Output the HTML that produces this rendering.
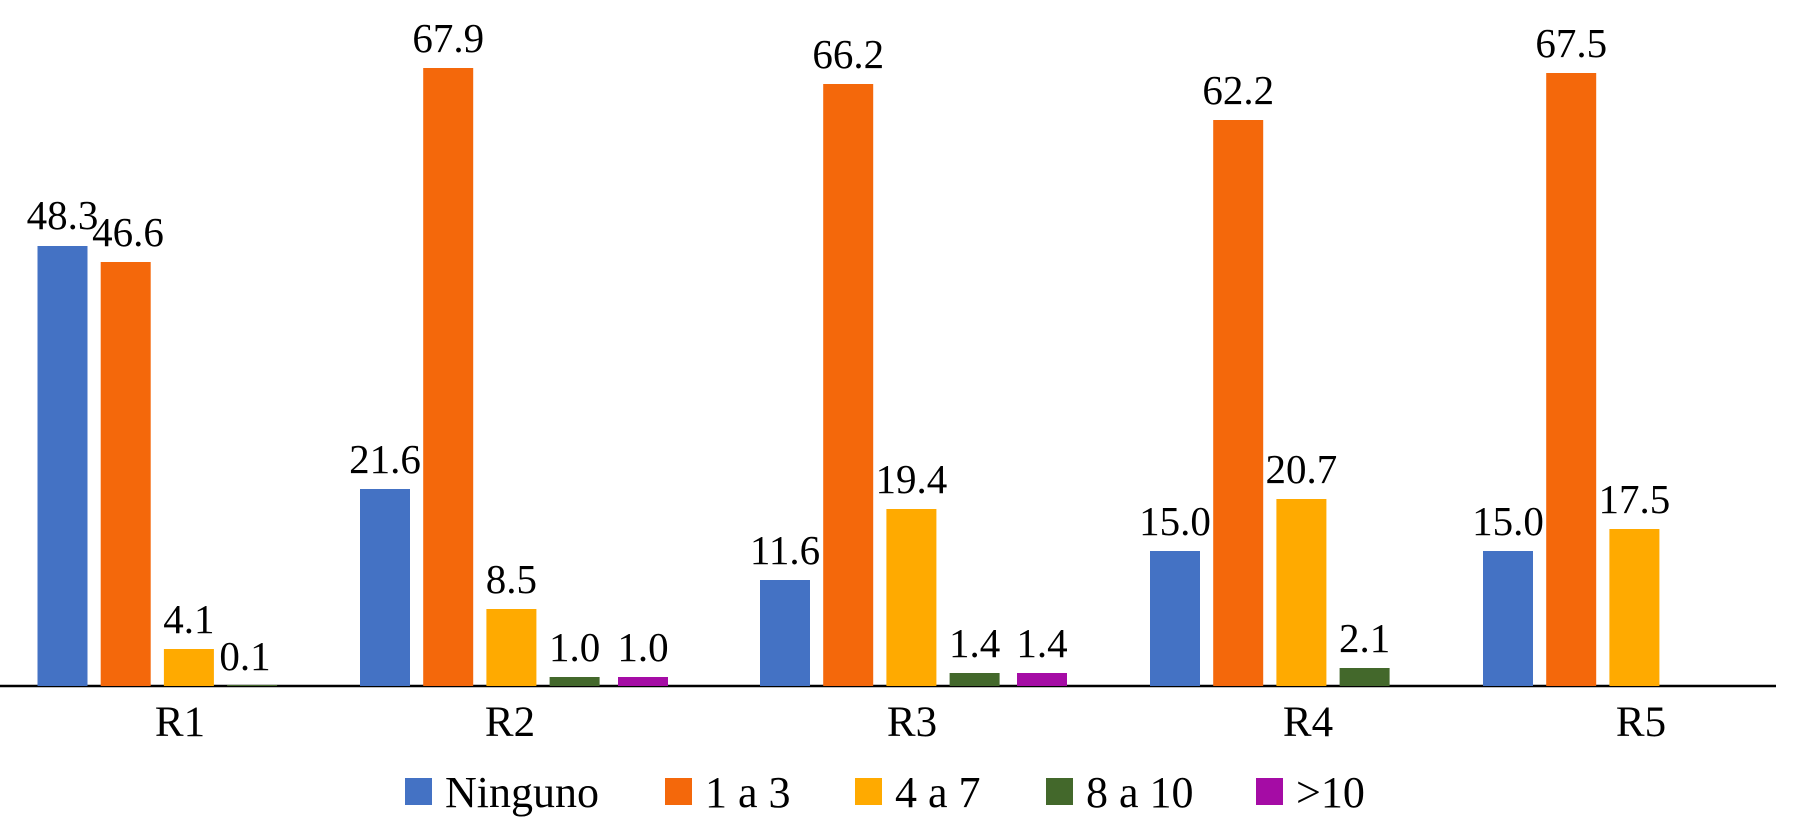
<!DOCTYPE html>
<html><head><meta charset="utf-8"><style>
html,body{margin:0;padding:0;background:#fff;}
svg{display:block;}
svg text{font-family:"Liberation Serif","Times New Roman","DejaVu Serif",serif;fill:#000;}
</style></head><body>
<svg width="1800" height="826" viewBox="0 0 1800 826" xmlns="http://www.w3.org/2000/svg" font-family="'Liberation Serif', 'Times New Roman', 'DejaVu Serif', serif">
<line x1="0" y1="686" x2="1776" y2="686" stroke="#000" stroke-width="2.5"/>
<g font-size="43" text-anchor="middle" font-family="'Liberation Serif', serif">
<text x="180" y="736">R1</text>
<text x="510" y="736">R2</text>
<text x="912" y="736">R3</text>
<text x="1308" y="736">R4</text>
<text x="1641" y="736">R5</text>
</g>
<g font-size="44" font-family="'Liberation Serif', serif">
<rect x="405" y="778" width="27" height="27" fill="#4472C4"/><text x="445" y="807">Ninguno</text>
<rect x="665" y="778" width="27" height="27" fill="#F4680B"/><text x="705" y="807">1 a 3</text>
<rect x="855" y="778" width="27" height="27" fill="#FFAA00"/><text x="895" y="807">4 a 7</text>
<rect x="1046" y="778" width="27" height="27" fill="#43682B"/><text x="1086" y="807">8 a 10</text>
<rect x="1256" y="778" width="27" height="27" fill="#A50CA5"/><text x="1296" y="807">&gt;10</text>
</g>
<g font-size="41" text-anchor="middle" font-family="'Liberation Serif', serif">
<rect x="37.5" y="246" width="50" height="440" fill="#4472C4"/><text x="62.5" y="229">48.3</text>
<rect x="100.7" y="262" width="50" height="424" fill="#F4680B"/><text x="128" y="246">46.6</text>
<rect x="163.9" y="649" width="50" height="37" fill="#FFAA00"/><text x="188.9" y="633">4.1</text>
<rect x="227.1" y="685" width="50" height="1" fill="#43682B"/><text x="245" y="670">0.1</text>
<rect x="360" y="489" width="50" height="197" fill="#4472C4"/><text x="385" y="473">21.6</text>
<rect x="423.2" y="68" width="50" height="618" fill="#F4680B"/><text x="448.2" y="52">67.9</text>
<rect x="486.4" y="609" width="50" height="77" fill="#FFAA00"/><text x="511.4" y="593">8.5</text>
<rect x="549.6" y="677" width="50" height="9" fill="#43682B"/><text x="574.6" y="661">1.0</text>
<rect x="618" y="677" width="50" height="9" fill="#A50CA5"/><text x="643" y="661">1.0</text>
<rect x="760" y="580" width="50" height="106" fill="#4472C4"/><text x="785" y="564">11.6</text>
<rect x="823.2" y="84" width="50" height="602" fill="#F4680B"/><text x="848.2" y="68">66.2</text>
<rect x="886.4" y="509" width="50" height="177" fill="#FFAA00"/><text x="911.4" y="493">19.4</text>
<rect x="949.6" y="673" width="50" height="13" fill="#43682B"/><text x="974.6" y="657">1.4</text>
<rect x="1017" y="673" width="50" height="13" fill="#A50CA5"/><text x="1042" y="657">1.4</text>
<rect x="1150" y="551" width="50" height="135" fill="#4472C4"/><text x="1175" y="535">15.0</text>
<rect x="1213.2" y="120" width="50" height="566" fill="#F4680B"/><text x="1238.2" y="104">62.2</text>
<rect x="1276.4" y="499" width="50" height="187" fill="#FFAA00"/><text x="1301.4" y="483">20.7</text>
<rect x="1339.6" y="668" width="50" height="18" fill="#43682B"/><text x="1364.6" y="652">2.1</text>
<rect x="1483" y="551" width="50" height="135" fill="#4472C4"/><text x="1508" y="535">15.0</text>
<rect x="1546.2" y="73" width="50" height="613" fill="#F4680B"/><text x="1571.2" y="57">67.5</text>
<rect x="1609.4" y="529" width="50" height="157" fill="#FFAA00"/><text x="1634.4" y="513">17.5</text>
</g>
</svg>
</body></html>
